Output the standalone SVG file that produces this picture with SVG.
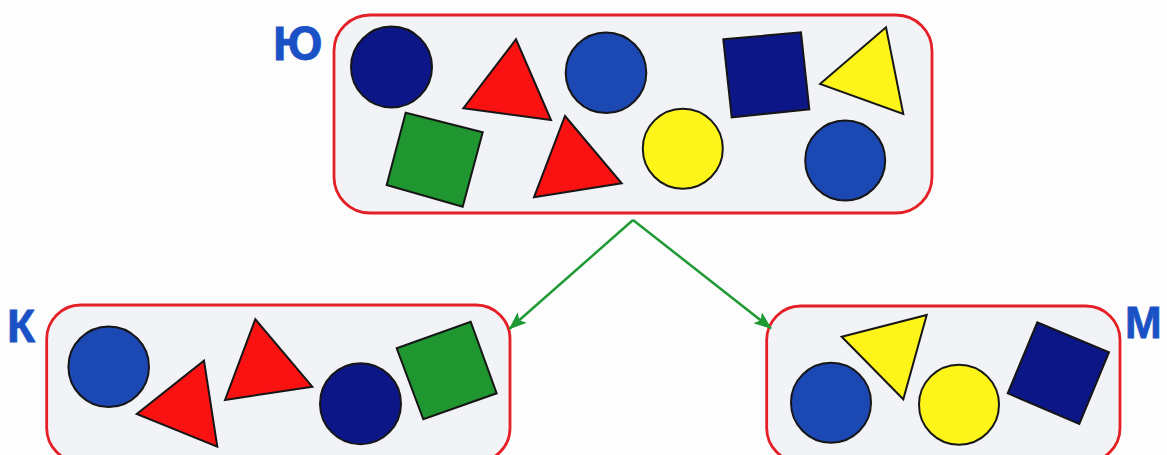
<svg xmlns="http://www.w3.org/2000/svg" width="1167" height="455" viewBox="0 0 1167 455">
<style>
.box{fill:#f2f3f6;stroke:#e51f26;stroke-width:2.8}
.lbl{font-family:"Liberation Sans",Arial,sans-serif;font-weight:bold;fill:#1a52c6;stroke:#1a52c6;stroke-width:0.8}
.s{stroke:#161616;stroke-width:2;stroke-linejoin:miter}
.navy{fill:#0c1686}
.blue{fill:#1c48b4}
.red{fill:#fa1111}
.green{fill:#1f962f}
.yellow{fill:#fdf51a}
.conn{stroke:#1f9a35;stroke-width:2.5;fill:none}
</style>
<defs>
<marker id="arr" viewBox="0 0 18 14" refX="17" refY="7" markerWidth="18" markerHeight="14" markerUnits="userSpaceOnUse" orient="auto">
<path d="M0,0 L18,7 L0,14 L4,7 Z" fill="#1f9a35"/>
</marker>
</defs>
<rect width="1167" height="455" fill="#fdfdfd"/>

<g id="node-yu">
<rect class="box" x="334" y="15" width="598" height="198" rx="36" ry="36"/>
<text class="lbl" x="273" y="60" font-size="48">Ю</text>
<circle class="s navy" cx="391.5" cy="67" r="40.5"/>
<polygon class="s red" points="463.3,108.3 516,39.3 551,120"/>
<circle class="s blue" cx="606" cy="72.7" r="40.3"/>
<polygon class="s green" points="405.7,112.7 482.7,132.3 462.7,206.7 386.7,185"/>
<polygon class="s red" points="565,116 621.7,183.3 534,197.3"/>
<polygon class="s navy" points="723.3,39.3 801,32.3 809.3,109.3 731.7,117.3"/>
<polygon class="s yellow" points="820,84 886,27.3 903.3,114"/>
<circle class="s yellow" cx="682.8" cy="148.7" r="40"/>
<circle class="s blue" cx="845.2" cy="160.5" r="40"/>
</g>

<g id="node-k">
<rect class="box" x="46.7" y="305" width="463.3" height="157" rx="34" ry="34"/>
<text class="lbl" x="7" y="341.7" font-size="46">К</text>
<circle class="s blue" cx="108.7" cy="366.7" r="40.3"/>
<polygon class="s red" points="136.7,414 204,360.7 217.3,446.7"/>
<polygon class="s red" points="225,400 255.3,319.3 312.3,386.7"/>
<circle class="s navy" cx="360.5" cy="403.7" r="40.5"/>
<polygon class="s green" points="396.7,348.3 470.7,321.7 496.7,393.3 423.3,419.3"/>
</g>

<g id="node-m">
<rect class="box" x="766.7" y="306" width="353.3" height="156" rx="34" ry="34"/>
<text class="lbl" x="1125" y="338.3" font-size="44">М</text>
<circle class="s blue" cx="831" cy="402.7" r="40"/>
<polygon class="s yellow" points="841.7,336.7 926.7,315 903.3,399.3"/>
<circle class="s yellow" cx="959" cy="404.7" r="40"/>
<polygon class="s navy" points="1007.7,393.3 1037.3,322.3 1109,352.3 1079.3,424"/>
</g>

<g id="connectors">
<line class="conn" x1="633" y1="220" x2="509.5" y2="328.8" marker-end="url(#arr)"/>
<line class="conn" x1="633" y1="220" x2="771" y2="328.3" marker-end="url(#arr)"/>
</g>
</svg>
